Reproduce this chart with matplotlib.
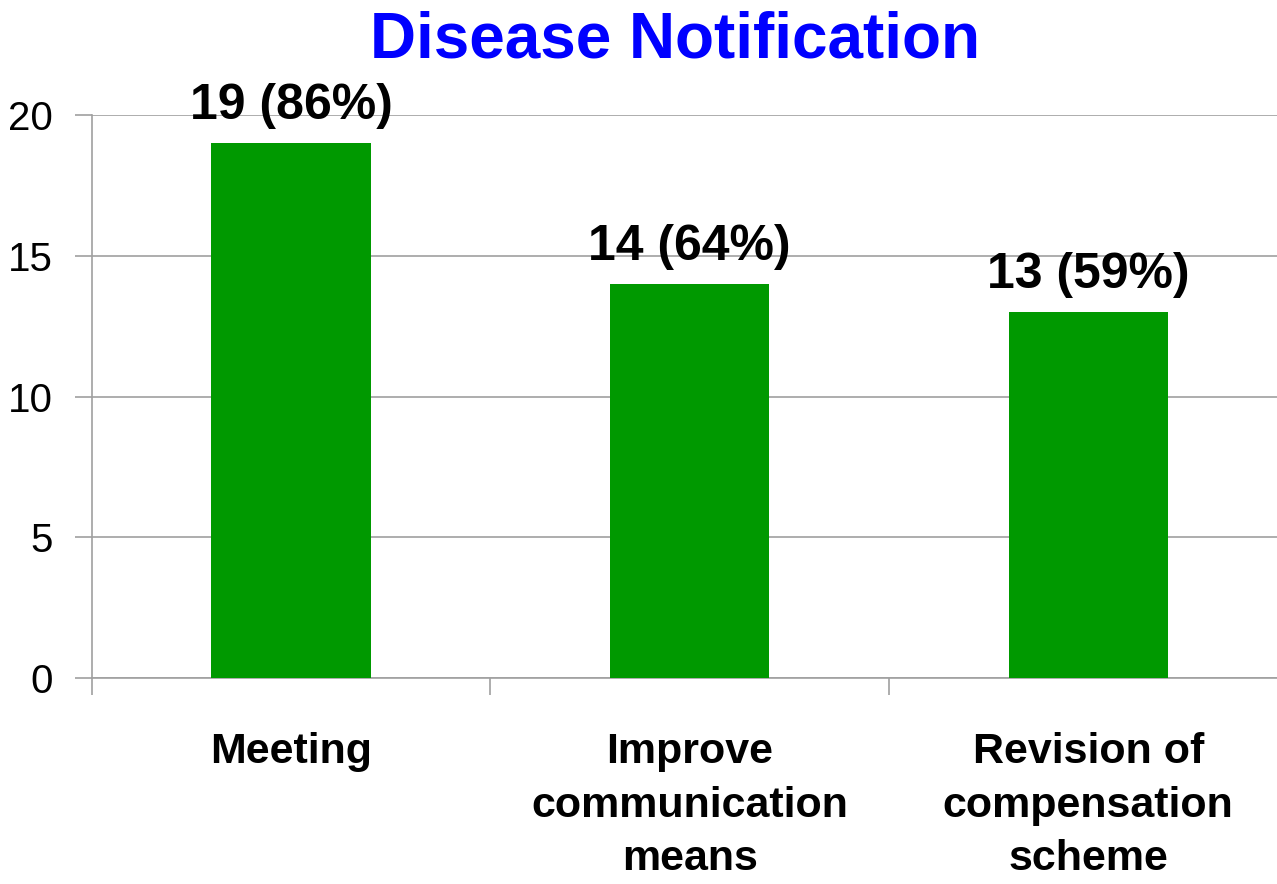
import matplotlib
matplotlib.use('Agg')
import numpy as np
import matplotlib.pyplot as plt

categories = ['Meeting', 'Improve\ncommunication\nmeans', 'Revision of\ncompensation\nscheme']
counts = [19, 14, 13]
percents = [86, 64, 59]
yticks = [0, 5, 10, 15, 20]

sans = ['Liberation Sans', 'DejaVu Sans']
plt.rcParams['font.family'] = sans

fig = plt.figure(figsize=(12.77, 8.84), dpi=100)
ax = fig.add_axes([0.0720, 0.2330, 0.9362, 0.6369])

x = np.arange(len(categories))
ax.bar(x, counts, width=0.40, color='#009900', zorder=3)

# value labels over bars
for xi, c, p in zip(x, counts, percents):
    ax.annotate(f'{c} ({p}%)', (xi, c), xytext=(0, 10), textcoords='offset points',
                ha='center', va='bottom', fontsize=36, fontweight='bold',
                color='black', zorder=4)

ax.set_xlim(-0.5, 2.5)
ax.set_ylim(0, 20)
ax.set_yticks(yticks)
ax.yaxis.grid(True, color='#a0a0a0', linewidth=1.2, zorder=0)
ax.tick_params(axis='y', length=12, width=1.2, color='#a0a0a0', pad=16, labelsize=29)

# boundaries as major ticks, labels on minor ticks
ax.set_xticks([-0.5, 0.5, 1.5, 2.5])
ax.set_xticklabels([])
ax.set_xticks(x, minor=True)
ax.set_xticklabels(categories, minor=True, fontsize=31, fontweight='bold',
                   linespacing=1.44)
ax.tick_params(axis='x', which='major', length=12, width=1.2, color='#a0a0a0')
ax.tick_params(axis='x', which='minor', length=0, pad=39)

for side in ['top', 'right']:
    ax.spines[side].set_visible(False)
for side in ['left', 'bottom']:
    ax.spines[side].set_color('#a0a0a0')
    ax.spines[side].set_linewidth(1.2)

fig.text(0.529, 0.988, 'Disease Notification', ha='center', va='top', fontsize=46,
         fontweight='bold', color='#0000ff')

fig.savefig('out.png', dpi=100)
